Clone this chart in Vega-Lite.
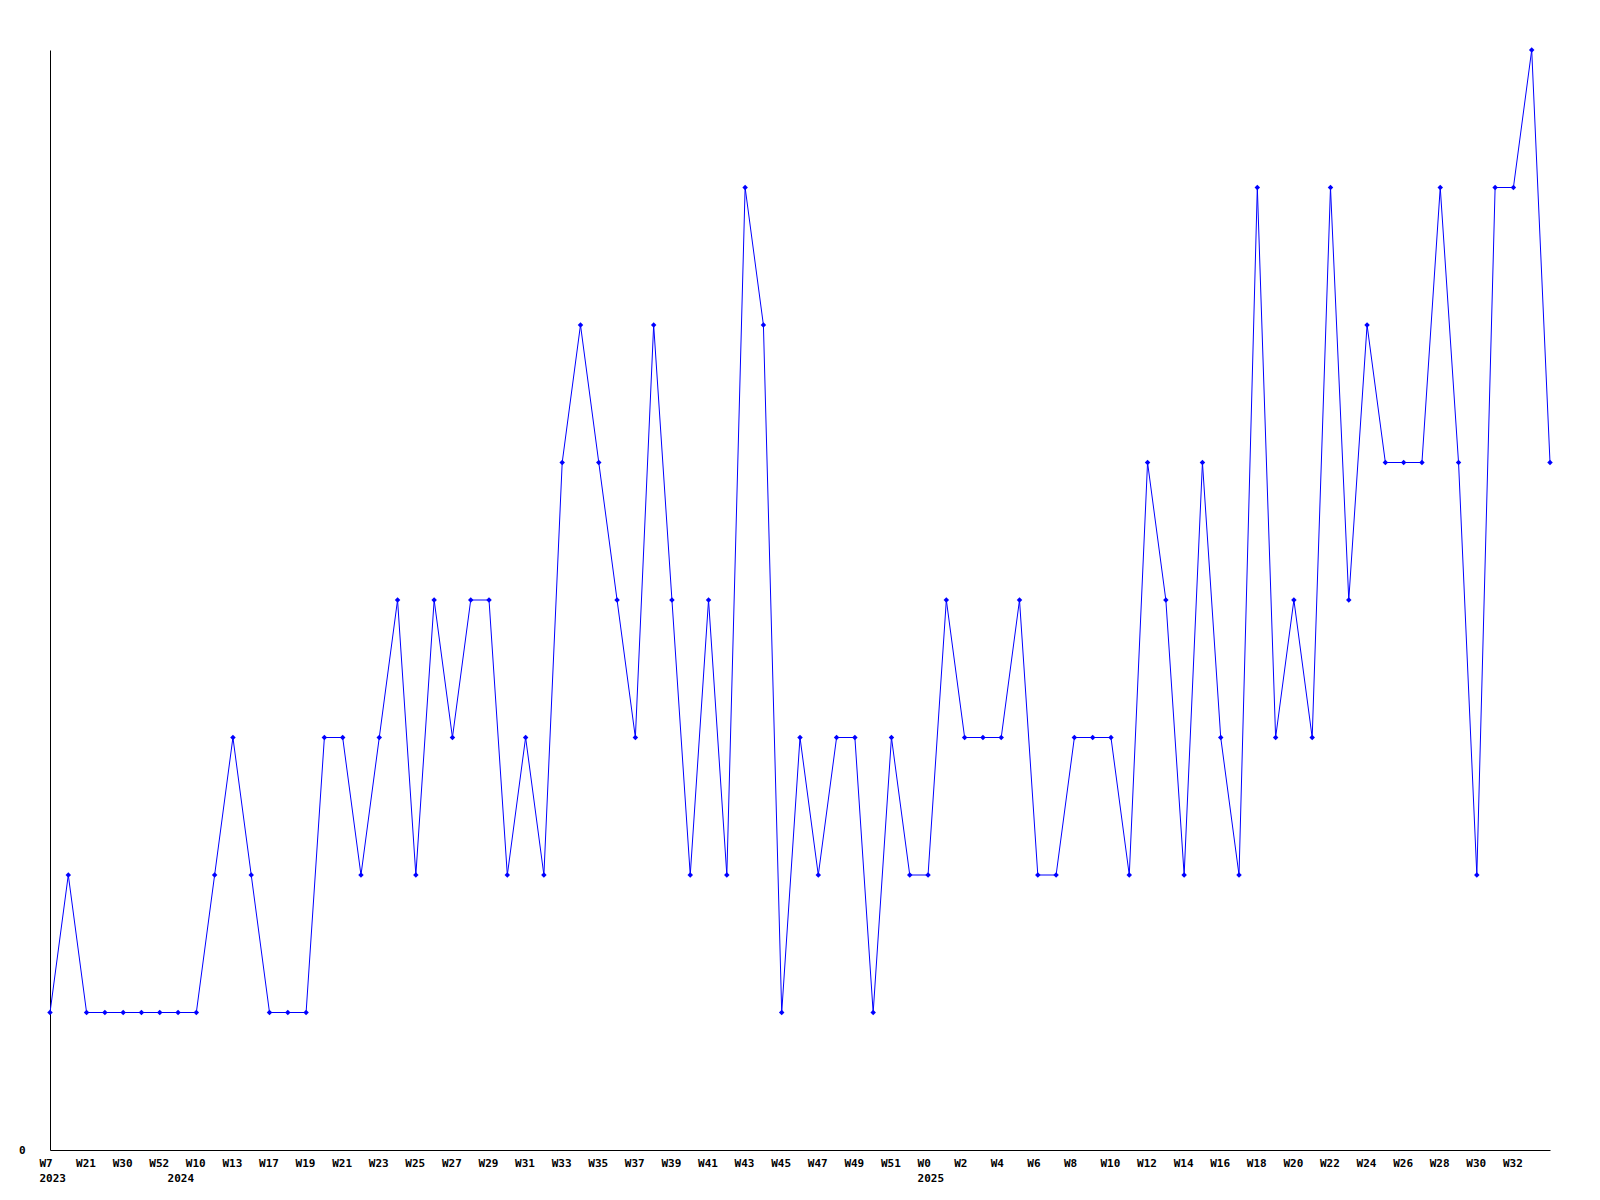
{
  "$schema": "https://vega.github.io/schema/vega-lite/v6.json",
  "width": 1500,
  "height": 1100,
  "autosize": {"type": "none"},
  "padding": {"left": 50, "top": 50, "right": 50, "bottom": 50},
  "background": "white",
  "config": {"view": {"stroke": null}},
  "data": {
    "values": [
      {"k": "00|W7|2023", "v": 1}, {"k": "01||", "v": 2}, {"k": "02|W21|", "v": 1}, {"k": "03||", "v": 1},
      {"k": "04|W30|", "v": 1}, {"k": "05||", "v": 1}, {"k": "06|W52|", "v": 1}, {"k": "07||2024", "v": 1},
      {"k": "08|W10|", "v": 1}, {"k": "09||", "v": 2}, {"k": "10|W13|", "v": 3}, {"k": "11||", "v": 2},
      {"k": "12|W17|", "v": 1}, {"k": "13|W18|", "v": 1}, {"k": "14|W19|", "v": 1}, {"k": "15|W20|", "v": 3},
      {"k": "16|W21|", "v": 3}, {"k": "17|W22|", "v": 2}, {"k": "18|W23|", "v": 3}, {"k": "19|W24|", "v": 4},
      {"k": "20|W25|", "v": 2}, {"k": "21|W26|", "v": 4}, {"k": "22|W27|", "v": 3}, {"k": "23|W28|", "v": 4},
      {"k": "24|W29|", "v": 4}, {"k": "25|W30|", "v": 2}, {"k": "26|W31|", "v": 3}, {"k": "27|W32|", "v": 2},
      {"k": "28|W33|", "v": 5}, {"k": "29|W34|", "v": 6}, {"k": "30|W35|", "v": 5}, {"k": "31|W36|", "v": 4},
      {"k": "32|W37|", "v": 3}, {"k": "33|W38|", "v": 6}, {"k": "34|W39|", "v": 4}, {"k": "35|W40|", "v": 2},
      {"k": "36|W41|", "v": 4}, {"k": "37|W42|", "v": 2}, {"k": "38|W43|", "v": 7}, {"k": "39|W44|", "v": 6},
      {"k": "40|W45|", "v": 1}, {"k": "41|W46|", "v": 3}, {"k": "42|W47|", "v": 2}, {"k": "43|W48|", "v": 3},
      {"k": "44|W49|", "v": 3}, {"k": "45|W50|", "v": 1}, {"k": "46|W51|", "v": 3}, {"k": "47|W52|", "v": 2},
      {"k": "48|W0|2025", "v": 2}, {"k": "49|W1|", "v": 4}, {"k": "50|W2|", "v": 3}, {"k": "51|W3|", "v": 3},
      {"k": "52|W4|", "v": 3}, {"k": "53|W5|", "v": 4}, {"k": "54|W6|", "v": 2}, {"k": "55|W7|", "v": 2},
      {"k": "56|W8|", "v": 3}, {"k": "57|W9|", "v": 3}, {"k": "58|W10|", "v": 3}, {"k": "59|W11|", "v": 2},
      {"k": "60|W12|", "v": 5}, {"k": "61|W13|", "v": 4}, {"k": "62|W14|", "v": 2}, {"k": "63|W15|", "v": 5},
      {"k": "64|W16|", "v": 3}, {"k": "65|W17|", "v": 2}, {"k": "66|W18|", "v": 7}, {"k": "67|W19|", "v": 3},
      {"k": "68|W20|", "v": 4}, {"k": "69|W21|", "v": 3}, {"k": "70|W22|", "v": 7}, {"k": "71|W23|", "v": 4},
      {"k": "72|W24|", "v": 6}, {"k": "73|W25|", "v": 5}, {"k": "74|W26|", "v": 5}, {"k": "75|W27|", "v": 5},
      {"k": "76|W28|", "v": 7}, {"k": "77|W29|", "v": 5}, {"k": "78|W30|", "v": 2}, {"k": "79|W31|", "v": 7},
      {"k": "80|W32|", "v": 7}, {"k": "81|W33|", "v": 8}, {"k": "82||", "v": 5}
    ]
  },
  "encoding": {
    "x": {
      "field": "k",
      "type": "ordinal",
      "sort": null,
      "scale": {"type": "point", "padding": 0},
      "axis": {
        "title": null,
        "ticks": false,
        "domainColor": "black",
        "domainWidth": 1,
        "labelAngle": 0,
        "labelAlign": "left",
        "labelBaseline": "top",
        "labelOffset": -11,
        "labelPadding": 7,
        "labelLineHeight": 15,
        "labelOverlap": false,
        "labelBound": false,
        "labelFlush": false,
        "labelFont": "DejaVu Sans Mono",
        "labelFontWeight": "bold",
        "labelFontSize": 11,
        "labelColor": "black",
        "labelExpr": "parseInt(split(datum.value,'|')[0]) % 2 == 0 ? [split(datum.value,'|')[1], split(datum.value,'|')[2]] : ['', split(datum.value,'|')[2]]"
      }
    },
    "y": {
      "field": "v",
      "type": "quantitative",
      "scale": {"domain": [0, 8], "nice": false, "zero": true},
      "axis": {
        "title": null,
        "values": [0],
        "ticks": false,
        "grid": false,
        "domainColor": "black",
        "domainWidth": 1,
        "labelPadding": 25,
        "labelFont": "DejaVu Sans Mono",
        "labelFontWeight": "bold",
        "labelFontSize": 11,
        "labelColor": "black"
      }
    }
  },
  "layer": [
    {"mark": {"type": "line", "color": "#0000ff", "strokeWidth": 1}},
    {"mark": {"type": "point", "shape": "diamond", "filled": true, "color": "#0000ff", "size": 30, "opacity": 1}}
  ]
}
